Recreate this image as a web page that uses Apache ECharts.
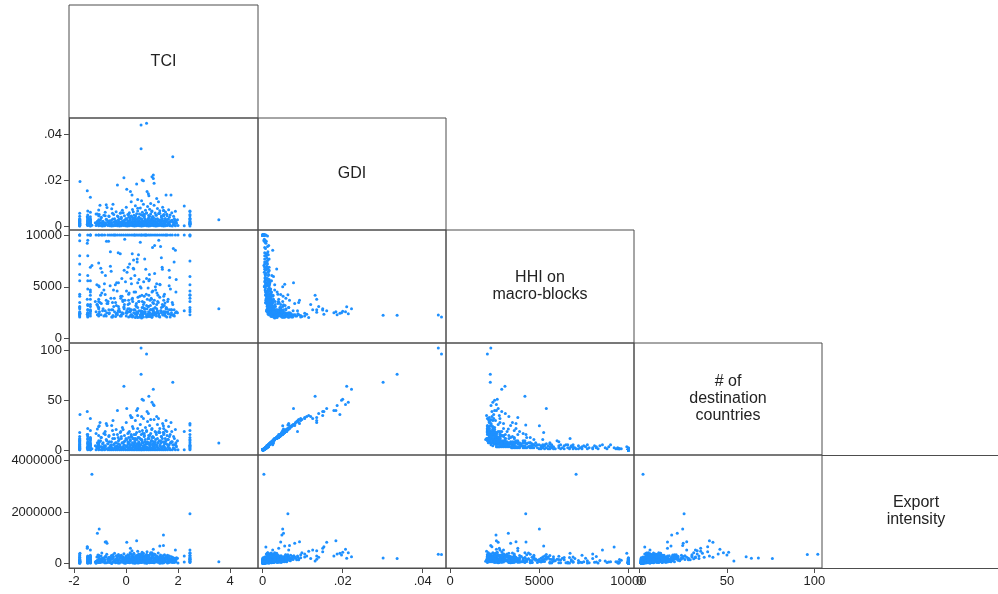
<!DOCTYPE html>
<html>
<head>
<meta charset="utf-8">
<script src="https://cdn.jsdelivr.net/npm/echarts@6/dist/echarts.min.js"></script>
<style>html,body{margin:0;padding:0;background:#fff}#c{width:998px;height:594px}</style>
</head>
<body>
<div id="c"></div>
<script>
// ---------- variables & tick labels ----------
const varLabels = ['TCI', 'GDI', 'HHI on\nmacro-blocks', '# of\ndestination\ncountries', 'Export\nintensity'];
const tciTicks = [-2, 0, 2, 4];
const gdiTicks = [0, 0.02, 0.04];
const hhiTicks = [0, 5000, 10000];
const destTicks = [0, 50, 100];
const exportTicks = [0, 2000000, 4000000];

// ---------- observations: [TCI, GDI, HHI, # destinations, export intensity] ----------
const oneMarket = [
[-1.78,0.0001,10000,1,30000],[-1.78,0,10000,1,95000],[-1.47,0.0002,10000,1,15000],[-1.37,0.0001,10000,1,60000],
[-1.37,0,10000,1,140000],[-1.05,0.0001,10000,1,45000],[-1.15,0.0002,10000,1,22000],[-0.95,0.0001,10000,1,110000],
[-0.9,0,10000,1,70000],[-0.82,0.0001,10000,1,35000],[-0.7,0.0002,10000,1,180000],[-0.62,0.0001,10000,1,50000],
[-0.55,0,10000,1,12000],[-0.48,0.0001,10000,1,85000],[-0.4,0.0002,10000,1,40000],[-0.33,0.0001,10000,1,150000],
[-0.25,0,10000,1,28000],[-0.18,0.0001,10000,1,65000],[-0.1,0.0002,10000,1,120000],[-0.02,0.0001,10000,1,18000],
[0.05,0,10000,1,75000],[0.12,0.0001,10000,1,230000],[0.2,0.0002,10000,1,55000],[0.27,0.0001,10000,1,32000],
[0.33,0,10000,1,100000],[0.4,0.0001,10000,1,160000],[0.46,0.0002,10000,1,25000],[0.52,0.0001,10000,1,80000],
[0.6,0,10000,1,42000],[0.66,0.0001,10000,1,130000],[0.72,0.0002,10000,1,60000],[0.8,0.0001,10000,1,20000],
[0.87,0,10000,1,190000],[0.93,0.0001,10000,1,48000],[1.0,0.0002,10000,1,90000],[1.08,0.0001,10000,1,35000],
[1.15,0,10000,1,125000],[1.22,0.0001,10000,1,58000],[1.3,0.0002,10000,1,16000],[1.38,0.0001,10000,1,105000],
[1.45,0,10000,1,40000],[1.52,0.0001,10000,1,170000],[1.6,0.0002,10000,1,27000],[1.7,0.0001,10000,1,68000],
[1.78,0,10000,1,44000],[1.9,0.0001,10000,1,95000],[2.0,0.0002,10000,1,30000],[2.24,0.0001,10000,1,62000],
[2.46,0,10000,1,110000],[0.58,0.0001,10000,1,210000]
];
const fewMarkets = [
[-1.78,0.0004,10000,2,45000],[-1.78,0.0005,7200,2,120000],[-1.47,0.0004,9500,2,60000],[-1.37,0.0006,5600,2,30000],
[-1.05,0.0005,10000,2,85000],[-0.92,0.0004,6400,2,150000],[-0.75,0.0006,9400,2,40000],[-0.61,0.0005,5100,2,210000],
[-0.44,0.0003,10000,2,70000],[-0.3,0.0005,8300,2,25000],[-0.16,0.0006,5800,2,95000],[-0.05,0.0004,9600,2,130000],
[0.08,0.0005,6900,2,55000],[0.21,0.0007,5300,2,180000],[0.34,0.0004,10000,2,20000],[0.43,0.0005,7700,2,110000],
[0.55,0.0006,9300,2,75000],[0.68,0.0005,5500,2,260000],[0.77,0.0004,10000,2,35000],[0.9,0.0006,6200,2,140000],
[1.02,0.0005,8800,2,50000],[1.13,0.0004,5000,2,90000],[1.26,0.0006,9500,2,160000],[1.4,0.0005,6700,2,28000],
[1.55,0.0004,10000,2,65000],[1.68,0.0006,5900,2,115000],[1.85,0.0005,7400,2,42000],[-1.78,0.0003,9450,2,18000],
[-1.47,0.0005,8000,2,200000],[-1.37,0.0004,10000,2,60000],
[-1.78,0.0008,4300,3,90000],[-1.47,0.0007,6100,3,35000],[-1.37,0.0009,3800,3,140000],[-1.05,0.0008,7300,3,55000],
[-0.85,0.0006,4700,3,220000],[-0.67,0.0009,9400,3,80000],[-0.52,0.0007,3500,3,45000],[-0.36,0.0008,5400,3,170000],
[-0.2,0.001,4100,3,100000],[-0.07,0.0007,6600,3,30000],[0.1,0.0008,3700,3,250000],[0.24,0.0009,8200,3,65000],
[0.37,0.0007,4500,3,120000],[0.5,0.0008,5700,3,40000],[0.63,0.001,3600,3,190000],[0.74,0.0008,10000,3,75000],
[0.85,0.0007,4900,3,135000],[0.97,0.0009,3900,3,58000],[1.1,0.0008,6300,3,210000],[1.23,0.0007,4200,3,88000],
[1.36,0.001,7800,3,33000],[1.5,0.0008,3450,3,160000],[1.66,0.0009,5100,3,70000],[1.82,0.0007,8700,3,105000],
[2.46,0.0008,4600,3,48000],
[-1.78,0.0011,3100,4,130000],[-1.78,0.0012,5600,4,60000],[-1.47,0.001,2800,4,95000],[-1.37,0.0013,4200,4,240000],
[-1.12,0.0011,3300,4,70000],[-0.97,0.0012,6800,4,150000],[-0.8,0.001,2700,4,40000],[-0.58,0.0013,3900,4,180000],
[-0.41,0.0011,5200,4,85000],[-0.27,0.0012,2900,4,300000],[-0.12,0.0014,3600,4,55000],[0.02,0.0011,4600,4,125000],
[0.15,0.001,2650,4,90000],[0.29,0.0013,7600,4,210000],[0.4,0.0012,3400,4,35000],[0.53,0.0011,4100,4,160000],
[0.66,0.0014,3000,4,70000],[0.79,0.0012,5800,4,270000],[0.92,0.001,3700,4,110000],[1.05,0.0013,2750,4,45000],
[1.19,0.0011,4400,4,195000],[1.33,0.0012,8900,4,62000],[1.47,0.0013,3200,4,145000],[1.62,0.0011,3800,4,80000],
[1.94,0.0012,2600,4,230000]
];
const midMarkets = [
[-1.78,0.0013,2400,5,110000],[-1.78,0.0017,3500,6,60000],[-1.78,0.002,2200,8,190000],[-1.78,0.0025,4100,10,80000],
[-1.78,0.0029,2600,11,250000],[-1.78,0.0015,6200,6,40000],[-1.78,0.0022,3000,9,150000],[-1.78,0.0031,2300,12,95000],
[-1.47,0.0014,4800,5,130000],[-1.47,0.0019,2500,7,75000],[-1.47,0.0024,3200,9,280000],[-1.47,0.0028,2100,11,50000],
[-1.47,0.0017,5600,7,170000],[-1.47,0.0033,2800,12,220000],[-1.37,0.0012,3300,5,65000],[-1.37,0.0018,2700,7,140000],
[-1.37,0.0022,4500,8,35000],[-1.37,0.0026,2200,10,200000],[-1.37,0.0016,6900,6,90000],[-1.37,0.003,3100,12,120000],
[-1.05,0.0015,2900,6,160000],[-1.05,0.002,3800,8,55000],[-1.05,0.0027,2400,10,240000],[-1.05,0.0013,5100,5,100000],
[2.46,0.0021,2600,8,300000],[2.46,0.0016,3900,6,90000],[2.46,0.0027,6000,10,170000],
[-1.18,0.0014,3600,5,70000],[-1.1,0.0021,2300,8,130000],[-0.98,0.0026,4200,10,45000],[-0.9,0.0017,2700,7,190000],
[-0.83,0.0012,5300,5,85000],[-0.76,0.0029,2200,11,260000],[-0.7,0.0019,3400,7,60000],[-0.64,0.0023,2500,9,150000],
[-0.57,0.0015,6500,6,38000],[-0.51,0.003,2800,12,210000],[-0.45,0.0018,3900,7,95000],[-0.4,0.0022,2150,8,175000],
[-0.34,0.0013,4600,5,50000],[-0.29,0.0027,3100,10,120000],[-0.23,0.0016,2600,6,300000],[-0.18,0.0032,2300,12,80000],
[-0.12,0.002,3700,8,140000],[-0.07,0.0024,2900,9,65000],[-0.02,0.0014,5500,5,230000],[0.03,0.0029,2450,11,105000],
[0.08,0.0018,3300,7,42000],[0.12,0.0021,4400,8,185000],[0.17,0.0026,2200,10,90000],[0.21,0.0015,2800,6,125000],
[0.26,0.0031,3600,12,270000],[0.3,0.0019,2500,7,58000],[0.34,0.0023,6100,9,160000],[0.38,0.0013,3200,5,100000],
[0.42,0.0028,2350,11,215000],[0.46,0.0017,4000,7,75000],[0.5,0.0022,2700,8,330000],[0.54,0.0033,2100,12,135000],
[0.58,0.0016,4900,6,48000],[0.62,0.0025,3000,10,180000],[0.66,0.002,2400,8,95000],[0.7,0.0014,3500,5,250000],
[0.74,0.0029,2600,11,68000],[0.78,0.0018,4300,7,145000],[0.82,0.0023,2250,9,200000],[0.86,0.0032,3100,12,110000],
[0.9,0.0016,5700,6,36000],[0.94,0.0021,2800,8,165000],[0.98,0.0027,3800,10,85000],[1.02,0.0015,2300,6,290000],
[1.06,0.0024,3400,9,120000],[1.1,0.0019,2500,7,55000],[1.14,0.003,4700,11,190000],[1.18,0.0013,2900,5,78000],
[1.22,0.0022,3600,8,240000],[1.27,0.0026,2200,10,100000],[1.31,0.0017,5200,6,150000],[1.35,0.0021,2700,8,62000],
[1.4,0.0031,3300,12,205000],[1.45,0.0014,4100,5,115000],[1.5,0.0024,2400,9,88000],[1.55,0.0018,3000,7,260000],
[1.6,0.0028,2600,11,140000],[1.66,0.0016,6600,6,52000],[1.72,0.0022,2300,8,175000],[1.78,0.0025,3500,9,95000],
[1.85,0.0015,2800,6,130000],[1.92,0.002,4500,8,70000],[1.98,0.0027,2500,10,210000],[0.14,0.0012,7200,5,40000],
[0.48,0.0014,8100,5,60000],[0.72,0.0016,7700,6,30000],[-0.6,0.0013,8400,5,120000],[1.1,0.0015,9000,6,80000],
[0.28,0.0011,6800,5,105000],[0.88,0.0034,2150,12,320000],[0.36,0.0036,2050,12,155000],[0.6,0.003,2000,11,95000],
[1.0,0.0028,2100,10,230000]
];
const largerExporters = [
[-1.12,0.0009,5200,3,260000],[-1.08,0.0016,3100,6,340000],[-1.02,0.0024,2600,9,180000],[-0.96,0.0035,2300,13,300000],
[-0.93,0.0012,4400,4,410000],[-0.88,0.0021,2900,8,220000],[-0.85,0.0047,2200,17,160000],[-0.79,0.0014,6100,5,290000],
[-0.74,0.0027,2500,10,370000],[-0.69,0.0019,3600,7,140000],[-0.65,0.0041,2400,15,250000],[-0.6,0.001,7000,3,200000],
[-0.56,0.0025,2800,9,320000],[-0.52,0.0055,2100,20,190000],[-0.48,0.0016,4700,6,270000],[-0.44,0.0031,2600,12,400000],
[-0.4,0.0012,3500,4,150000],[-0.37,0.0022,3200,8,310000],[-0.33,0.0044,2300,16,230000],[-0.29,0.0018,5400,7,360000],
[-0.26,0.0029,2700,11,170000],[-0.22,0.0011,8200,4,280000],[-0.18,0.0038,2200,14,330000],[-0.15,0.002,4100,8,210000],
[-0.11,0.0058,2400,21,270000],[-0.08,0.0015,3000,6,390000],[-0.04,0.0026,3700,10,150000],[0,0.0033,2500,12,300000],
[0.04,0.0013,6400,5,240000],[0.07,0.0023,2900,9,350000],[0.1,0.0049,2100,18,200000],[0.13,0.0017,3400,7,280000],
[0.16,0.003,2600,11,420000],[0.19,0.0009,5800,3,180000],[0.22,0.0039,2300,14,260000],[0.25,0.0021,3900,8,320000],
[0.28,0.0062,2200,22,230000],[0.31,0.0014,4500,5,370000],[0.34,0.0027,2800,10,190000],[0.37,0.0043,2400,16,300000],
[0.4,0.0019,3100,7,250000],[0.43,0.0011,7400,4,330000],[0.46,0.0034,2500,13,210000],[0.49,0.0024,3600,9,380000],
[0.52,0.0052,2100,19,270000],[0.55,0.0016,5000,6,160000],[0.58,0.003,2700,11,340000],[0.61,0.0021,4200,8,220000],
[0.64,0.0046,2300,17,310000],[0.67,0.0013,3300,5,400000],[0.7,0.0037,2600,14,180000],[0.73,0.0025,2900,9,290000],
[0.76,0.001,6700,3,240000],[0.79,0.0057,2200,20,350000],[0.82,0.0018,3800,7,200000],[0.85,0.0032,2400,12,270000],
[0.88,0.0022,5600,8,320000],[0.91,0.0042,2500,15,230000],[0.94,0.0015,3200,6,380000],[0.97,0.0028,2800,10,170000],
[1.0,0.0065,2100,22,290000],[1.03,0.0019,4600,7,250000],[1.06,0.0036,2300,13,330000],[1.09,0.0012,3700,4,210000],
[1.12,0.0024,3000,9,360000],[1.15,0.0048,2400,18,190000],[1.18,0.0017,5300,6,300000],[1.21,0.0031,2600,12,240000],
[1.24,0.0021,3500,8,410000],[1.27,0.0054,2200,19,220000],[1.3,0.0014,4000,5,280000],[1.33,0.0027,2700,10,340000],
[1.36,0.0039,2500,14,200000],[1.39,0.0011,6900,4,260000],[1.42,0.0023,3100,9,310000],[1.45,0.0045,2300,16,170000],
[1.48,0.0018,4300,7,350000],[1.51,0.0033,2600,12,230000],[1.54,0.0026,2900,10,290000],[1.57,0.0051,2100,19,250000],
[1.6,0.0015,3600,6,330000],[1.63,0.0029,2400,11,200000],[1.67,0.0038,2800,14,300000],[1.71,0.002,4800,8,180000],
[1.75,0.0024,2500,9,270000],[1.8,0.0016,3300,6,240000],[1.86,0.0032,2200,12,210000],[1.93,0.0013,5700,5,160000],
[-1.78,0.0018,2900,7,320000],[-1.78,0.0026,2500,10,260000],[-1.78,0.0009,8000,3,380000],[-1.47,0.0022,3300,8,300000],
[-1.47,0.0037,2300,14,250000],[-1.37,0.0015,4700,6,330000],[-1.37,0.0028,2600,11,280000],[-1.05,0.0019,3600,7,290000],
[2.46,0.0013,4200,5,420000],[2.46,0.0034,2800,13,330000],[2.46,0.0006,10000,2,200000],[0.2,0.0044,2200,16,140000]
];
const manyMarkets = [
[-1.78,0.0042,2300,14,170000],[-1.78,0.0055,2100,18,90000],[-1.47,0.0048,2500,16,230000],[-1.47,0.0065,2200,22,140000],
[-1.37,0.004,2700,13,80000],[-1.37,0.006,2400,20,260000],[-1.05,0.0045,3000,15,120000],[-1.05,0.007,2200,24,330000],
[2.46,0.0045,2300,16,180000],[-1.15,0.0052,2600,17,95000],[-0.95,0.0038,3400,13,200000],[-0.8,0.006,2300,19,150000],
[-0.66,0.0043,2800,14,75000],[-0.55,0.0075,2100,25,280000],[-0.47,0.005,3100,16,115000],[-0.38,0.0062,2400,21,190000],
[-0.3,0.004,2700,13,60000],[-0.22,0.0055,2200,18,240000],[-0.14,0.0068,2500,23,130000],[-0.06,0.0045,3300,15,85000],
[0.01,0.0082,2200,28,210000],[0.07,0.005,2600,17,150000],[0.13,0.0058,2900,19,340000],[0.19,0.0042,2300,14,100000],
[0.25,0.0072,2100,24,180000],[0.31,0.0047,2800,16,70000],[0.36,0.0088,2400,30,260000],[0.41,0.0053,2200,18,125000],
[0.45,0.0065,3000,22,200000],[0.5,0.0039,3600,13,90000],[0.55,0.0078,2300,26,310000],[0.59,0.0049,2500,16,145000],
[0.63,0.006,2200,20,80000],[0.67,0.0095,2100,32,230000],[0.71,0.0044,2900,15,170000],[0.75,0.0069,2400,23,110000],
[0.79,0.0056,3200,19,280000],[0.83,0.0085,2200,29,150000],[0.87,0.0046,2600,15,60000],[0.91,0.0073,2300,25,220000],
[0.95,0.0052,2800,17,130000],[0.99,0.0063,2100,21,350000],[1.03,0.0041,3500,14,95000],[1.08,0.009,2300,31,190000],
[1.12,0.0057,2500,19,120000],[1.17,0.0047,2200,16,270000],[1.21,0.0076,2700,26,160000],[1.26,0.0054,2400,18,75000],
[1.3,0.0066,2100,22,210000],[1.36,0.0043,3000,14,140000],[1.41,0.0081,2300,27,250000],[1.46,0.005,2600,17,100000],
[1.52,0.0061,2200,20,180000],[1.58,0.0045,2900,15,65000],[1.64,0.0071,2400,24,230000],[1.7,0.0048,2100,16,120000],
[1.76,0.0058,2800,19,160000],[1.83,0.0042,2300,14,90000],[1.9,0.0064,2500,21,200000],[0.2,0.0105,2200,33,380000],
[0.6,0.011,2350,34,300000],[0.95,0.0098,2150,31,420000],[1.25,0.0105,2450,32,260000],[-0.5,0.0095,2250,30,350000],
[0.45,0.0115,2050,35,480000],[0.1,0.0038,4300,13,160000],[0.7,0.0051,4100,17,90000],[1.45,0.0067,3700,22,140000],
[-0.2,0.0058,3900,19,220000],[1.0,0.0036,4500,13,50000]
];
const outlierFirms = [
[0.58,0.0439,2288,102,364000],[0.79,0.0447,2095,96,360000],[0.58,0.0336,2259,76,200000],[1.80,0.0301,2259,68,220000],
[-0.08,0.021,3080,64,210000],[1.05,0.0222,2900,61,270000],[0.88,0.0131,4200,54,100000],[0.62,0.020,2650,51,440000],
[0.67,0.0197,2500,50,340000],[1.00,0.0214,2400,48,420000],[1.05,0.0207,2600,46,560000],[1.08,0.0186,2300,45,380000],
[-1.77,0.0193,2450,36,400000],[-1.49,0.0153,2350,39,660000],[-1.37,0.0125,2800,32,530000],[-0.33,0.0178,2500,40,300000],
[0.03,0.016,2700,42,830000],[0.41,0.0183,2600,40,890000],[0.81,0.015,2900,39,464000],[0.86,0.014,3100,37,250000],
[1.18,0.012,3300,34,200000],[1.54,0.0135,2550,30,300000],[1.73,0.0135,2800,28,170000],[-1.00,0.009,3500,28,150000],
[-0.76,0.0092,3700,27,850000],[-0.73,0.008,3400,25,790000],[2.46,0.0063,4245,25.5,1930000],[2.46,0.0065,3000,27,530000],
[2.46,0.005,3600,20,250000],[2.24,0.0087,2700,19,300000],[2.46,0.003,5200,11,150000],[2.46,0.001,7500,5,80000],
[3.57,0.0027,2896,7.6,77000],[-1.31,0.0003,7067,2,3460000],[-1.03,0.005,5010,24.7,1340000],[-1.10,0.0052,3270,21.6,1180000],
[1.44,0.0048,2580,18.4,1110000],[1.44,0.0067,2283,24.7,700000],[0.17,0.015,2765,35,600000],[0.23,0.0135,3800,33,500000],
[-1.49,0.0008,9200,3,646000],[-1.49,0.004,3800,16,600000],[1.90,0.0025,8544,6,530000],[2.46,0.0012,9910,4,400000],
[-0.8,0.0045,4260,16,840000],[0.3,0.0035,6730,12,400000],[1.3,0.0055,5250,18,685000],[0.45,0.0077,5400,42,250000]
];

// ---------- layout (pixels) and axis extents ----------
const colEdges = [69, 258, 446, 634, 822, 1010];
const rowEdges = [5, 118, 230, 343, 455, 568];
const xExtent = [[-2.192, 5.077], [-0.001175, 0.045825], [-224, 10314], [-3.15, 104.4], [0, 1]];
const yExtent = [[0, 1], [-0.00174, 0.04696], [-415, 10487], [-4.27, 106.95], [-166000, 4205000]];
const tickSets = [tciTicks, gdiTicks, hhiTicks, destTicks, exportTicks];

const firms = [].concat(oneMarket, fewMarkets, midMarkets, largerExporters, manyMarkets, outlierFirms);
const FONT = 'Arial, "Liberation Sans", Helvetica, sans-serif';
const LINE = '#4d4d4d';
const fmt = v => String(v).replace(/^0\./, '.').replace(/^-0\./, '-.');

const grids = [], xAxes = [], yAxes = [], series = [], graphics = [];
let g = 0;
for (let i = 0; i < 5; i++) {
  for (let j = 0; j <= i; j++) {
    const left = colEdges[j], top = rowEdges[i];
    const w = colEdges[j + 1] - left, h = rowEdges[i + 1] - top;
    const lastCell = (i === 4 && j === 4);
    grids.push({left: left, top: top, width: w, height: h, show: !lastCell,
      borderColor: LINE, borderWidth: 1, backgroundColor: 'transparent'});
    const diag = i === j;
    const showX = i === 4 && j < 4;
    const showY = j === 0 && i > 0;
    xAxes.push({gridIndex: g, type: 'value', min: xExtent[j][0], max: xExtent[j][1], show: showX,
      position: 'bottom',
      axisLine: {show: true, onZero: false, lineStyle: {color: LINE, width: 1}},
      axisTick: {show: true, length: 5, customValues: tickSets[j], lineStyle: {color: LINE}},
      axisLabel: {customValues: tickSets[j], formatter: fmt, fontSize: 13, color: '#222', fontFamily: FONT, margin: 7},
      splitLine: {show: false}});
    yAxes.push({gridIndex: g, type: 'value', min: yExtent[i][0], max: yExtent[i][1], show: showY,
      position: 'left',
      axisLine: {show: true, onZero: false, lineStyle: {color: LINE, width: 1}},
      axisTick: {show: true, length: 5, customValues: tickSets[i], lineStyle: {color: LINE}},
      axisLabel: {customValues: tickSets[i], formatter: fmt, fontSize: 13, color: '#222', fontFamily: FONT, margin: 7},
      splitLine: {show: false}});
    if (diag) {
      graphics.push({type: 'text', x: left + w / 2, y: top + h / 2, silent: true,
        style: {text: varLabels[i], fontSize: 16, fontFamily: FONT, fill: '#222',
          align: 'center', verticalAlign: 'middle', lineHeight: 17}});
    } else {
      series.push({type: 'scatter', xAxisIndex: g, yAxisIndex: g, silent: true,
        symbol: 'circle', symbolSize: 3,
        itemStyle: {color: '#1E90FF', opacity: 1},
        data: firms.map(r => [r[j], r[i]])});
    }
    if (lastCell) {
      // last diagonal cell runs past the right edge of the page: only its top and bottom edges are visible
      graphics.push({type: 'line', silent: true, shape: {x1: left, y1: top + 0.5, x2: 998, y2: top + 0.5},
        style: {stroke: LINE, lineWidth: 1}});
      graphics.push({type: 'line', silent: true, shape: {x1: left, y1: top + h + 0.5, x2: 998, y2: top + h + 0.5},
        style: {stroke: LINE, lineWidth: 1}});
    }
    g++;
  }
}

const chart = echarts.init(document.getElementById('c'), null, {renderer: 'canvas'});
chart.setOption({
  animation: false,
  backgroundColor: '#fff',
  grid: grids, xAxis: xAxes, yAxis: yAxes, series: series, graphic: graphics
});
</script>
</body>
</html>
